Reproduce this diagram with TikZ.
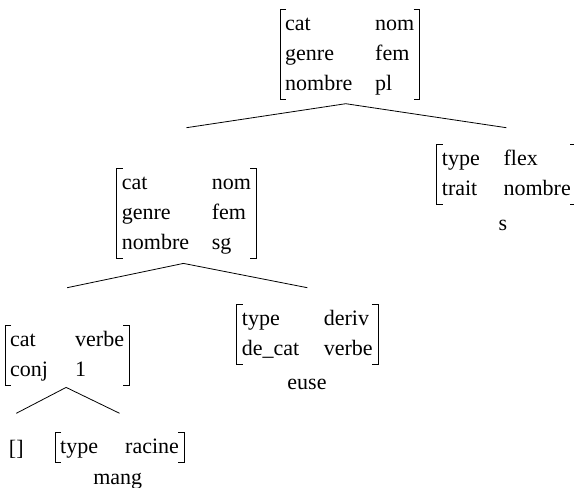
\documentclass[tikz,border=0pt]{standalone}
\usepackage{fontspec}
\setmainfont{Liberation Serif}
\newcommand\avmbrackets[1]{%
  \draw[brk] ([xshift=6pt]#1.north west) -- (#1.north west) -- (#1.south west) -- ([xshift=6pt]#1.south west);
  \draw[brk] ([xshift=-6pt]#1.north east) -- (#1.north east) -- (#1.south east) -- ([xshift=-6pt]#1.south east);}
\begin{document}
\begin{tikzpicture}[x=1pt,y=-1pt,
  avm/.style={anchor=north west, inner xsep=5pt, inner ysep=0pt, font=\fontsize{22}{30}\selectfont},
  phon/.style={anchor=base, inner sep=0pt, font=\fontsize{22}{30}\selectfont},
  brk/.style={line width=0.9pt},
  branch/.style={line width=0.8pt}]
\useasboundingbox (0,0) rectangle (574,488);
% feature structures
\node[avm] (root) at (280,9.3) {\begin{tabular}{@{}p{90pt}@{}l@{}}cat & nom\\ genre & fem\\ nombre & pl\end{tabular}};
\node[avm] (sg) at (116.7,168) {\begin{tabular}{@{}p{90pt}@{}l@{}}cat & nom\\ genre & fem\\ nombre & sg\end{tabular}};
\node[avm] (flex) at (436.7,144) {\begin{tabular}{@{}p{61.7pt}@{}l@{}}type & flex\\ trait & nombre\end{tabular}};
\node[avm] (deriv) at (236.7,304) {\begin{tabular}{@{}p{82pt}@{}l@{}}type & deriv\\ de\_cat & verbe\end{tabular}};
\node[avm] (verbe) at (5,325) {\begin{tabular}{@{}p{65pt}@{}l@{}}cat & verbe\\ conj & 1\end{tabular}};
\node[avm] (racine) at (55,432) {\begin{tabular}{@{}p{65pt}@{}l@{}}type & racine\end{tabular}};
\node[phon] (empty) at (16.3,455) {[]};
\foreach \n in {root,sg,flex,deriv,verbe,racine}{\avmbrackets{\n}}
% strings
\node[phon] (s) at (503,230) {s};
\node[phon] (euse) at (307,389) {euse};
\node[phon] (mang) at (117.7,484) {mang};
% branch levels
\coordinate (lvA) at (0,127.7);
\coordinate (lvB) at (0,287.7);
\coordinate (lvC) at (0,413.3);
\draw[branch] (sg.north |- lvA) -- ([xshift=-4pt,yshift=-4pt]root.south) -- (flex.north |- lvA);
\draw[branch] (verbe.north |- lvB) -- ([xshift=-3pt,yshift=-5pt]sg.south) -- (deriv.north |- lvB);
\draw[branch] (empty.north |- lvC) -- ([xshift=-1pt,yshift=-2pt]verbe.south) -- (racine.north |- lvC);
\end{tikzpicture}
\end{document}
